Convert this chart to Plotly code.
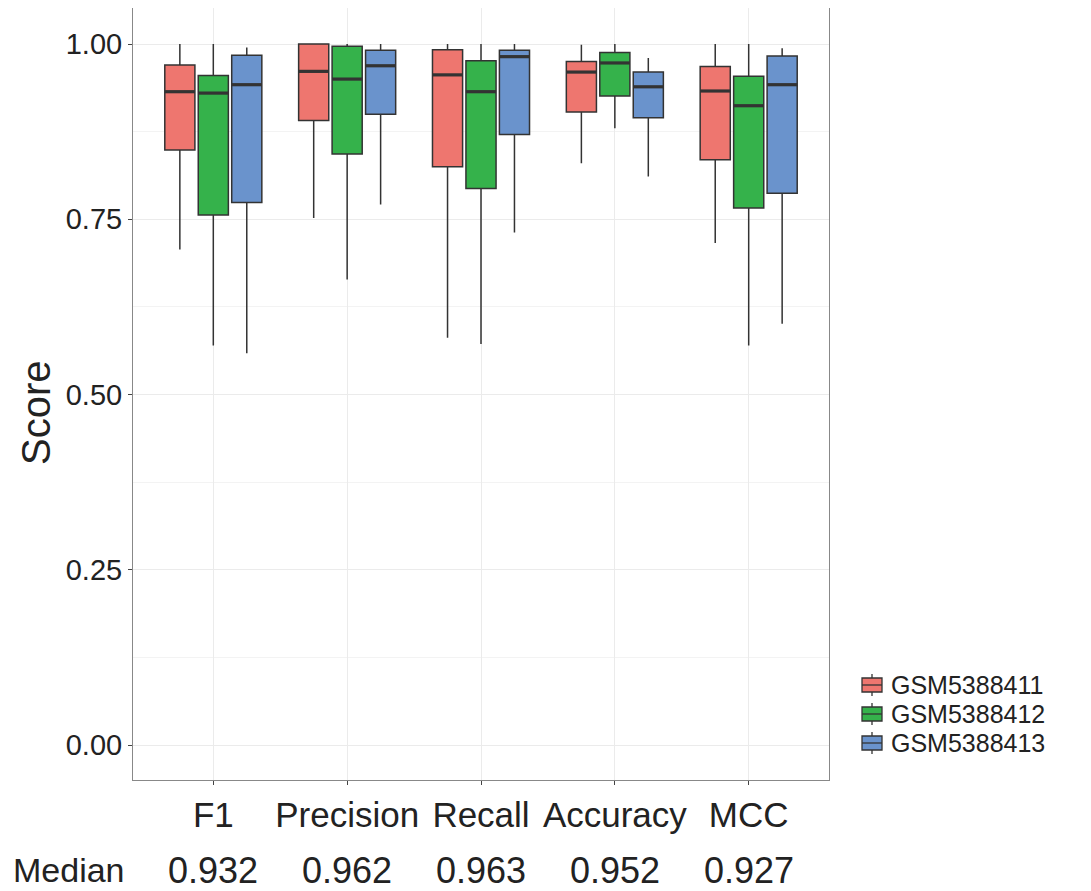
import plotly.graph_objects as go

categories = ["F1", "Precision", "Recall", "Accuracy", "MCC"]
groups = ["GSM5388411", "GSM5388412", "GSM5388413"]
colors = ["#EE766F", "#35B24B", "#6A93CC"]

# per group: lower whisker, q1, median, q3, upper whisker (per category)
lower = [
    [0.707, 0.752, 0.581, 0.830, 0.716],
    [0.570, 0.664, 0.572, 0.880, 0.570],
    [0.559, 0.771, 0.731, 0.811, 0.601],
]
q1 = [
    [0.849, 0.891, 0.825, 0.903, 0.835],
    [0.756, 0.843, 0.794, 0.926, 0.766],
    [0.774, 0.900, 0.871, 0.895, 0.787],
]
median = [
    [0.932, 0.961, 0.956, 0.960, 0.933],
    [0.930, 0.950, 0.932, 0.973, 0.912],
    [0.942, 0.969, 0.982, 0.939, 0.942],
]
q3 = [
    [0.970, 1.000, 0.992, 0.975, 0.968],
    [0.955, 0.997, 0.976, 0.988, 0.954],
    [0.984, 0.991, 0.991, 0.960, 0.983],
]
upper = [
    [1.000, 1.000, 1.000, 0.999, 1.000],
    [1.000, 1.000, 1.000, 1.000, 1.000],
    [0.995, 1.000, 1.000, 0.980, 0.994],
]
overall_medians = ["0.932", "0.962", "0.963", "0.952", "0.927"]
y_ticks = [0.0, 0.25, 0.5, 0.75, 1.0]
y_tick_labels = ["0.00", "0.25", "0.50", "0.75", "1.00"]

FONT = "Liberation Sans, Arial, sans-serif"
TXT = "#222222"
EDGE = "#333333"

# layout constants (page has an 8px body margin)
W, H = 1083, 883
ML, MR, MT, MB = 125, 262, 0, 111
PW, PH = W - ML - MR, H - MT - MB
OFF = 8


def px(x):
    return (x - OFF - ML) / PW


def py(y):
    return (H - MB - (y - OFF)) / PH


BOXGAP, GROUPGAP = 0.25, 0.1
slot = (1 - BOXGAP) / len(groups)
half = slot * (1 - GROUPGAP) / 2

fig = go.Figure()
shapes = []
for i, g in enumerate(groups):
    fig.add_trace(go.Box(
        name=g,
        x=categories,
        q1=q1[i], median=median[i], q3=q3[i],
        lowerfence=lower[i], upperfence=upper[i],
        fillcolor=colors[i],
        line=dict(color=EDGE, width=1.5),
        whiskerwidth=0,
        boxpoints=False,
        showlegend=False,
    ))
    centre_off = (i - (len(groups) - 1) / 2) * slot
    for j, m in enumerate(median[i]):
        shapes.append(dict(type="line", xref="x", yref="y",
                           x0=j + centre_off - half, x1=j + centre_off + half,
                           y0=m, y1=m, line=dict(color=EDGE, width=3.2)))

# manual compact legend
legend_y = [685, 714, 743]
for g, c, ly in zip(groups, colors, legend_y):
    shapes.append(dict(type="line", xref="paper", yref="paper",
                       x0=px(872), x1=px(872), y0=py(ly - 11), y1=py(ly + 11),
                       line=dict(color=EDGE, width=1.3)))
    shapes.append(dict(type="rect", xref="paper", yref="paper",
                       x0=px(862), x1=px(882), y0=py(ly - 7), y1=py(ly + 7),
                       fillcolor=c, line=dict(color=EDGE, width=1.3)))
    shapes.append(dict(type="line", xref="paper", yref="paper",
                       x0=px(862), x1=px(882), y0=py(ly), y1=py(ly),
                       line=dict(color=EDGE, width=1.3)))
    fig.add_annotation(x=px(889), xref="paper", y=py(ly), yref="paper", text=g,
                       showarrow=False, xanchor="left", yanchor="middle",
                       font=dict(family=FONT, size=25, color=TXT))

for c, m in zip(categories, overall_medians):
    fig.add_annotation(x=c, xref="x", y=py(870), yref="paper", text=m,
                       showarrow=False, xanchor="center", yanchor="middle",
                       font=dict(family=FONT, size=36, color=TXT))
fig.add_annotation(x=px(127), xref="paper", y=py(870), yref="paper", text="Median",
                   showarrow=False, xanchor="right", yanchor="middle",
                   font=dict(family=FONT, size=34, color=TXT))
fig.add_annotation(x=px(36), xref="paper", y=py(413), yref="paper", text="Score",
                   showarrow=False, textangle=-90, xanchor="center", yanchor="middle",
                   font=dict(family=FONT, size=40, color=TXT))

fig.update_layout(
    width=W, height=H,
    margin=dict(l=ML, r=MR, t=MT, b=MB),
    paper_bgcolor="white", plot_bgcolor="white",
    boxmode="group", boxgap=BOXGAP, boxgroupgap=GROUPGAP,
    font=dict(family=FONT, color=TXT),
    showlegend=False,
    shapes=shapes,
)
fig.update_xaxes(
    type="category", range=[-0.6, 4.6],
    showgrid=True, gridcolor="#EBEBEB", gridwidth=1,
    showline=True, mirror=True, linecolor="#888888", linewidth=1,
    ticks="outside", ticklen=4, tickcolor="#444444",
    tickfont=dict(family=FONT, size=35, color=TXT),
    zeroline=False,
)
fig.update_yaxes(
    range=[-0.0499, 1.0514],
    tickvals=y_ticks, ticktext=y_tick_labels,
    showgrid=True, gridcolor="#EBEBEB", gridwidth=1,
    minor=dict(tickvals=[0.125, 0.375, 0.625, 0.875], showgrid=True,
               gridcolor="#F3F3F3", gridwidth=1, ticks=""),
    showline=True, mirror=True, linecolor="#888888", linewidth=1,
    ticks="outside", ticklen=4, tickcolor="#444444",
    tickfont=dict(family=FONT, size=29, color=TXT),
    zeroline=False,
)

fig.write_html("out.html")
